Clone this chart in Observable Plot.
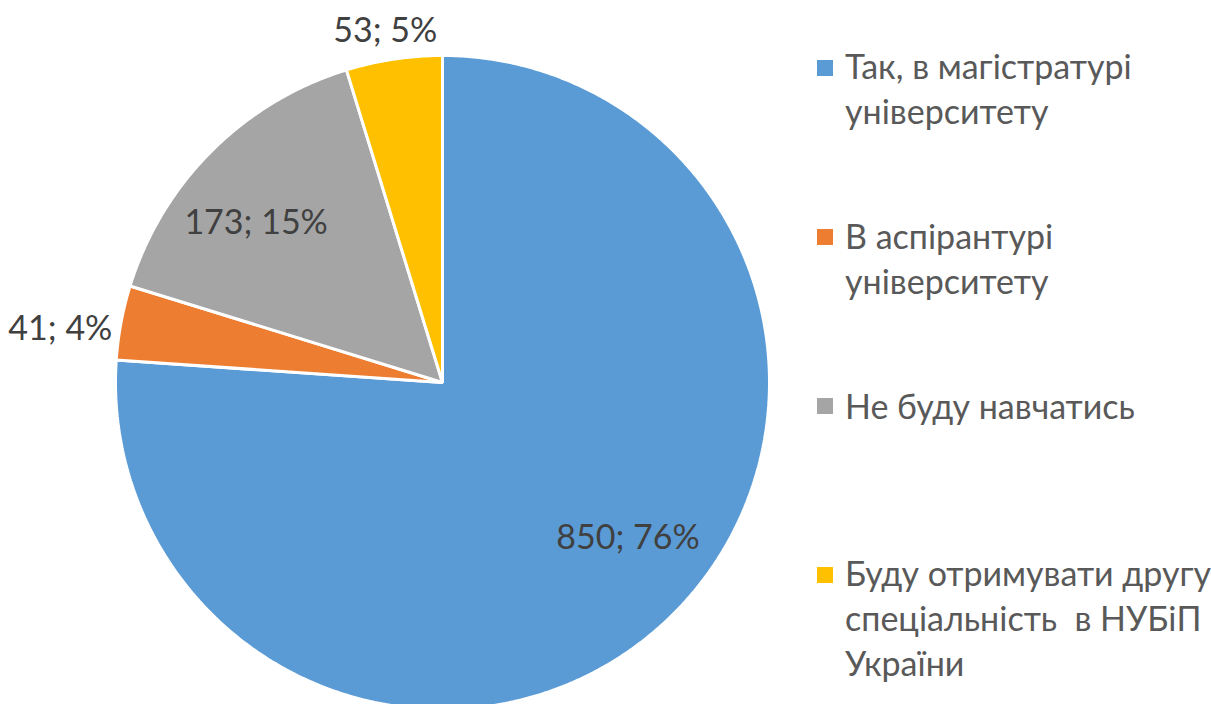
<!DOCTYPE html>
<html>
<head>
<meta charset="utf-8">
<script src="https://cdn.jsdelivr.net/npm/d3@7"></script>
<script src="https://cdn.jsdelivr.net/npm/@observablehq/plot@0.6"></script>
<style>
  html, body { margin: 0; padding: 0; background: #fff; overflow: hidden; }
  #wrap { position: relative; width: 1211px; height: 704px; }
  #legend { position: absolute; left: 0; top: 0; font-family: Lato, "Open Sans", sans-serif; font-size: 34px; color: #595959; }
  .item { position: absolute; left: 845px; line-height: 45px; white-space: pre; }
  .sw { position: absolute; left: 817px; width: 16px; height: 16px; }
</style>
</head>
<body>
<div id="wrap"><div id="chart"></div><div id="legend"></div></div>
<script>
// ---- data ----
const categories = [
  "Так, в магістратурі університету",
  "В аспірантурі університету",
  "Не буду навчатись",
  "Буду отримувати другу спеціальність  в НУБіП України"
];
const legendLines = [
  ["Так, в магістратурі", "університету"],
  ["В аспірантурі", "університету"],
  ["Не буду навчатись"],
  ["Буду отримувати другу", "спеціальність  в НУБіП", "України"]
];
const values = [850, 41, 173, 53];
const colors = ["#5B9BD5", "#ED7D31", "#A5A5A5", "#FFC000"];

// ---- layout ----
const W = 1211, H = 704;
const cx = 442, cy = 382, R = 327;
const labelRadius = [0.74, 1.18, 0.75, 1.09];
const labelAngleShift = [-7, -2.6, -4.5, -0.7];
const legendTops = [43, 213, 383, 550];
const swatchTops = [60, 229, 398, 567];

const total = d3.sum(values);
let acc = 0;
const slices = values.map((v, i) => {
  const a0 = acc / total * 360;
  acc += v;
  const a1 = acc / total * 360;
  return {cat: categories[i], value: v, a0, a1, i};
});

// polygon geometry for each wedge (angles clockwise from 12 o'clock)
const rad = d => d * Math.PI / 180;
const wedgePts = [];
for (const s of slices) {
  wedgePts.push({cat: s.cat, x: 0, y: 0});
  const n = Math.max(2, Math.ceil((s.a1 - s.a0) / 0.5));
  for (let k = 0; k <= n; k++) {
    const a = rad(s.a0 + (s.a1 - s.a0) * k / n);
    wedgePts.push({cat: s.cat, x: Math.sin(a), y: Math.cos(a)});
  }
}

const labels = slices.map(s => {
  const a = rad((s.a0 + s.a1) / 2 + labelAngleShift[s.i]);
  const r = labelRadius[s.i];
  return {
    x: r * Math.sin(a), y: r * Math.cos(a),
    text: `${s.value}; ${Math.round(s.value / total * 100)}%`
  };
});

const chart = Plot.plot({
  width: W, height: H,
  margin: 0,
  x: {domain: [-cx / R, (W - cx) / R], axis: null},
  y: {domain: [(cy - H) / R, cy / R], axis: null},
  color: {domain: categories, range: colors},
  style: {fontFamily: "Lato, 'Open Sans', sans-serif", background: "white", overflow: "visible"},
  marks: [
    Plot.line(wedgePts, {x: "x", y: "y", z: "cat", fill: "cat", stroke: "white", strokeWidth: 3, curve: "linear-closed", strokeLinejoin: "miter"}),
    Plot.text(labels, {x: "x", y: "y", text: "text", fill: "#404040", fontSize: 34, fontFamily: "Lato, 'Open Sans', sans-serif"})
  ]
});
document.getElementById("chart").appendChild(chart);

const legend = document.getElementById("legend");
categories.forEach((c, i) => {
  const sw = document.createElement("div");
  sw.className = "sw";
  sw.style.top = swatchTops[i] + "px";
  sw.style.background = colors[i];
  legend.appendChild(sw);
  const it = document.createElement("div");
  it.className = "item";
  it.style.top = legendTops[i] + "px";
  it.textContent = legendLines[i].join("\n");
  legend.appendChild(it);
});
</script>
</body>
</html>
